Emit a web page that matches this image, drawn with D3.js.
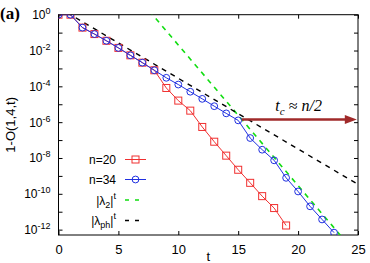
<!DOCTYPE html>
<html>
<head>
<meta charset="utf-8">
<script src="https://cdn.jsdelivr.net/npm/d3@7"></script>
<style>
  body { margin: 0; background: #fff; }
  text { font-family: "Liberation Sans", Arial, sans-serif; }
</style>
</head>
<body>
<div id="chart"></div>
<script>
// values: 1-O(1,4,t) for each step t
const tN20 = d3.range(0, 20);
const valN20 = [1, 1, 1.9e-1, 8.3e-2, 3.5e-2, 1.4e-2, 5.4e-3, 2.1e-3, 7.9e-4, 8.1e-5,
  1.6e-5, 4.4e-6, 5.4e-7, 8.1e-8, 1.35e-8, 2.2e-9, 4.1e-10, 7.4e-11, 1.6e-11, 1.7e-12];
const tN34 = d3.range(0, 24);
const valN34 = [1, 1, 1.9e-1, 8.3e-2, 3.5e-2, 1.4e-2, 5.4e-3, 2.1e-3, 7.9e-4, 3.0e-4,
  1.26e-4, 5.0e-5, 2.0e-5, 7.8e-6, 3.1e-6, 1.26e-6, 1.3e-7, 2.9e-8, 7.4e-9, 7.8e-10,
  1.35e-10, 2.0e-11, 3.7e-12, 6.8e-13];
// reference lines |lambda|^t, end points at t = 0 and t = 25
const tRef = [0, 25];
const valLam2 = [1.45e6, 3.4e-14];
const valLamPh = [2.5, 3.35e-10];
// arrow t_c ~ n/2
const arrowT = [15.3, 24.9];
const arrowV = [1.4e-6, 1.4e-6];

const xTicks = [0, 5, 10, 15, 20, 25];
const yTicks = d3.range(0, -13, -1).map(e => Math.pow(10, e));
const yLabelExp = ["0", "-2", "-4", "-6", "-8", "-10", "-12"];

const W = 370, H = 263;
const m = { left: 58.5, right: 12, top: 14.7, bottom: 28 };

const svg = d3.select("#chart").append("svg")
  .attr("width", W).attr("height", H);

const x = d3.scaleLinear().domain([0, 25]).range([m.left, W - m.right]);
const y = d3.scaleLog().domain([Math.pow(10, -12.3), 1]).range([H - m.bottom, m.top]);

svg.append("clipPath").attr("id", "clip")
  .append("rect")
  .attr("x", x(0)).attr("y", y.range()[1])
  .attr("width", x(25) - x(0)).attr("height", y.range()[0] - y.range()[1]);

// axes, ticks pointing inward, mirrored on top and right
const tk = 4;
svg.append("g").attr("transform", `translate(0,${y.range()[0]})`)
  .call(d3.axisBottom(x).tickValues(xTicks).tickSize(-tk).tickPadding(10))
  .call(g => g.select(".domain").remove())
  .call(g => g.selectAll("text").attr("font-size", 13).attr("fill", "#000")
    .style("font-family", "Liberation Sans, Arial, sans-serif"));
svg.append("g").attr("transform", `translate(0,${y.range()[1]})`)
  .call(d3.axisTop(x).tickValues(xTicks).tickSize(-tk).tickFormat(""))
  .call(g => g.select(".domain").remove());
svg.append("g").attr("transform", `translate(${x(0)},0)`)
  .call(d3.axisLeft(y).tickValues(yTicks).tickSize(-tk).tickFormat(""))
  .call(g => g.select(".domain").remove());
svg.append("g").attr("transform", `translate(${x(25)},0)`)
  .call(d3.axisRight(y).tickValues(yTicks).tickSize(-tk).tickFormat(""))
  .call(g => g.select(".domain").remove());

// y tick labels 10^e
yLabelExp.forEach(e => {
  const t = svg.append("text")
    .attr("x", x(0) - 8).attr("y", y(Math.pow(10, +e)) + 4.5)
    .attr("text-anchor", "end").attr("font-size", 12);
  t.append("tspan").text("10");
  t.append("tspan").attr("dy", -5).attr("font-size", 9).text(e);
});

svg.append("rect")
  .attr("x", x(0)).attr("y", y.range()[1])
  .attr("width", x(25) - x(0)).attr("height", y.range()[0] - y.range()[1])
  .attr("fill", "none").attr("stroke", "#000").attr("stroke-width", 1);

// axis titles
svg.append("text")
  .attr("transform", `translate(15,${(y.range()[0] + y.range()[1]) / 2}) rotate(-90)`)
  .attr("text-anchor", "middle").attr("font-size", 13)
  .text("1-O(1,4,t)");
svg.append("text")
  .attr("x", x(12.5)).attr("y", 261)
  .attr("text-anchor", "middle").attr("font-size", 13)
  .text("t");
svg.append("text")
  .attr("x", 0).attr("y", 19)
  .attr("font-size", 17).attr("font-weight", "bold")
  .style("font-family", "Liberation Serif, Times New Roman, serif")
  .text("(a)");

const plot = svg.append("g").attr("clip-path", "url(#clip)");
const line = d3.line().x(d => x(d[0])).y(d => y(d[1]));

const cRed = "#f03030", cBlue = "#2030e0", cGreen = "#11dd11";

plot.append("path").datum(d3.zip(tRef, valLam2))
  .attr("d", line).attr("fill", "none")
  .attr("stroke", cGreen).attr("stroke-width", 1.6).attr("stroke-dasharray", "5,5");
plot.append("path").datum(d3.zip(tRef, valLamPh))
  .attr("d", line).attr("fill", "none")
  .attr("stroke", "#000").attr("stroke-width", 1.4).attr("stroke-dasharray", "5,5");

plot.append("path").datum(d3.zip(tN20, valN20))
  .attr("d", line).attr("fill", "none").attr("stroke", cRed).attr("stroke-width", 1);
plot.selectAll(".sq").data(d3.zip(tN20, valN20)).join("rect")
  .attr("class", "sq")
  .attr("x", d => x(d[0]) - 3.5).attr("y", d => y(d[1]) - 3.5)
  .attr("width", 7).attr("height", 7)
  .attr("fill", "none").attr("stroke", cRed).attr("stroke-width", 1);

plot.append("path").datum(d3.zip(tN34, valN34))
  .attr("d", line).attr("fill", "none").attr("stroke", cBlue).attr("stroke-width", 1);
plot.selectAll(".ci").data(d3.zip(tN34, valN34)).join("circle")
  .attr("class", "ci")
  .attr("cx", d => x(d[0])).attr("cy", d => y(d[1])).attr("r", 3.4)
  .attr("fill", "none").attr("stroke", cBlue).attr("stroke-width", 1);

// arrow
const cArrow = "#a02a2a";
const ax0 = x(arrowT[0]), ax1 = x(arrowT[1]), ay = y(arrowV[0]);
svg.append("line")
  .attr("x1", ax0).attr("x2", ax1 - 10).attr("y1", ay).attr("y2", y(arrowV[1]))
  .attr("stroke", cArrow).attr("stroke-width", 2.5);
svg.append("path")
  .attr("d", `M${ax1},${ay} L${ax1 - 12},${ay - 4.5} L${ax1 - 12},${ay + 4.5} Z`)
  .attr("fill", cArrow);
const lab = svg.append("text")
  .attr("x", x(18.1)).attr("y", ay - 9)
  .attr("font-size", 16).attr("font-style", "italic")
  .style("font-family", "Liberation Serif, Times New Roman, serif");
lab.append("tspan").text("t");
lab.append("tspan").attr("dy", 4).attr("font-size", 11).text("c");
lab.append("tspan").attr("dy", -4).attr("font-style", "normal").text(" \u2248 ");
lab.append("tspan").text("n/2");

// legend
const lgX = 116, lgY = [159.5, 179.5, 200, 220.5];
const leg = svg.append("g");
[["n=20", cRed, "sq"], ["n=34", cBlue, "ci"]].forEach((d, i) => {
  leg.append("text").attr("x", lgX).attr("y", lgY[i] + 4.5)
    .attr("text-anchor", "end").attr("font-size", 12).text(d[0]);
  leg.append("line").attr("x1", 125).attr("x2", 146).attr("y1", lgY[i]).attr("y2", lgY[i])
    .attr("stroke", d[1]).attr("stroke-width", 1);
  if (d[2] === "sq") {
    leg.append("rect").attr("x", 135.5 - 3.5).attr("y", lgY[i] - 3.5)
      .attr("width", 7).attr("height", 7).attr("fill", "none").attr("stroke", d[1]);
  } else {
    leg.append("circle").attr("cx", 135.5).attr("cy", lgY[i]).attr("r", 3.4)
      .attr("fill", "none").attr("stroke", d[1]);
  }
});
[["2", cGreen], ["ph", "#000"]].forEach((d, k) => {
  const i = k + 2;
  const t = leg.append("text").attr("x", lgX).attr("y", lgY[i] + 4.5)
    .attr("text-anchor", "end").attr("font-size", 12);
  t.append("tspan").text("|\u03bb");
  t.append("tspan").attr("dy", 3).attr("font-size", 9).text(d[0]);
  t.append("tspan").attr("dy", -3).text("|");
  t.append("tspan").attr("dy", -6).attr("font-size", 9).text("t");
  leg.append("line").attr("x1", 125).attr("x2", 141).attr("y1", lgY[i]).attr("y2", lgY[i])
    .attr("stroke", d[1]).attr("stroke-width", 1.5).attr("stroke-dasharray", "4,6");
});
</script>
</body>
</html>
